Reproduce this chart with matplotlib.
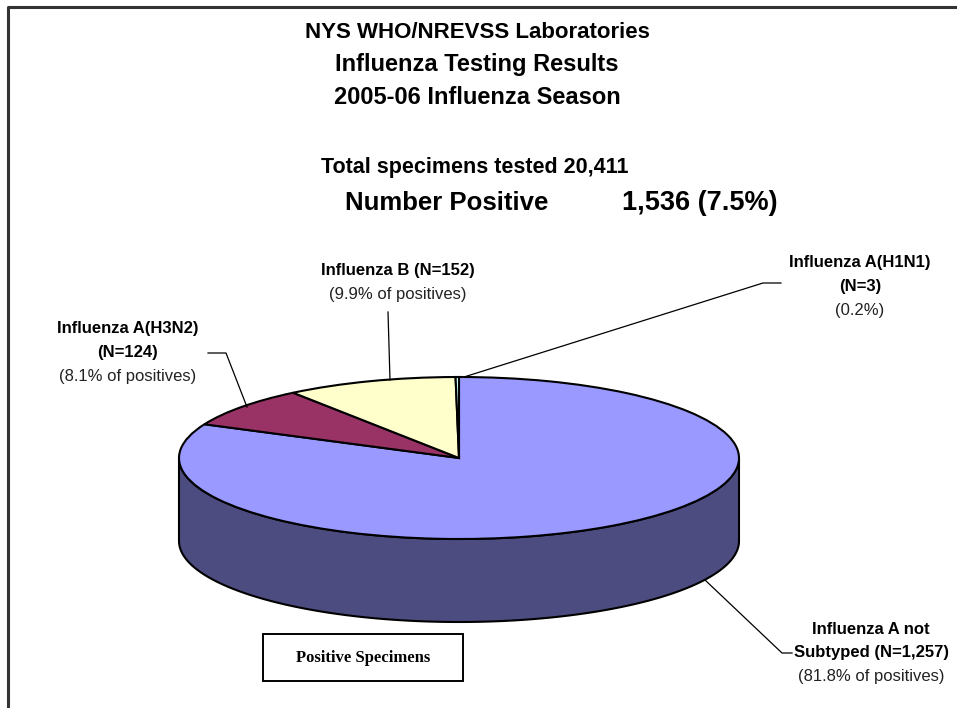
import numpy as np
import matplotlib
matplotlib.use("Agg")
import matplotlib.pyplot as plt
from matplotlib.patches import Wedge, Polygon, Rectangle
from matplotlib.transforms import Affine2D

# ---- data ----
categories = ["Influenza A not Subtyped", "Influenza A(H3N2)", "Influenza B", "Influenza A(H1N1)"]
counts = [1257, 124, 152, 3]
top_colors = ["#9999FF", "#993366", "#FFFFCC", "#CCFFFF"]
side_colors = ["#4C4C80", "#4D1A33", "#808066", "#668080"]
title_lines = ["NYS WHO/NREVSS Laboratories", "Influenza Testing Results", "2005-06 Influenza Season"]
total_tested = "20,411"
positive_text = "1,536 (7.5%)"
label_lines = [
    ["Influenza A not", "Subtyped (N=1,257)", "(81.8% of positives)"],
    ["Influenza A(H3N2)", "(N=124)", "(8.1% of positives)"],
    ["Influenza B (N=152)", "(9.9% of positives)"],
    ["Influenza A(H1N1)", "(N=3)", "(0.2%)"],
]

W, H = 957, 708
fig = plt.figure(figsize=(W / 100, H / 100), dpi=100)
ax = fig.add_axes([0, 0, 1, 1])
ax.set_xlim(0, W)
ax.set_ylim(H, 0)
ax.axis("off")

# outer frame (top and left visible)
ax.plot([8, 8, W + 5], [H + 5, 7, 7], color="#333333", lw=2.2, solid_capstyle="butt")

# titles
title_sizes = [16, 17, 17]
for i, t in enumerate(title_lines):
    ax.text(477, 32 + i * 33, t, ha="center", va="center", fontsize=title_sizes[i],
            fontweight="bold", family="Liberation Sans")
ax.text(475, 167, "Total specimens tested " + total_tested, ha="center", va="center",
        fontsize=15.5, fontweight="bold", family="Liberation Sans")
ax.text(345, 203, "Number Positive", ha="left", va="center",
        fontsize=18.5, fontweight="bold", family="Liberation Sans")
ax.text(622, 203, positive_text, ha="left", va="center",
        fontsize=19.5, fontweight="bold", family="Liberation Sans")

# ---- 3D pie geometry ----
cx, cy, a, b, depth = 459, 458, 280, 81, 83
vals = np.array(counts, dtype=float)
frac = vals / vals.sum()
# start at 12 o'clock, going clockwise
ends = 90 - 360 * np.cumsum(frac)
starts = np.concatenate([[90], ends[:-1]])

def ell(t, dy=0.0):
    t = np.radians(t)
    return np.column_stack([cx + a * np.cos(t), cy - b * np.sin(t) + dy])

# side walls (front half: angles 180..360)
for s, e, col in zip(starts, ends, side_colors):
    lo, hi = min(s, e), max(s, e)
    for shift in (-360, 0, 360):
        l2, h2 = max(lo + shift, 180), min(hi + shift, 360)
        if h2 > l2:
            t = np.linspace(l2, h2, 200)
            pts = np.vstack([ell(t), ell(t[::-1], depth)])
            ax.add_patch(Polygon(pts, closed=True, fc=col, ec="black", lw=1.5, zorder=2))

# top surface
tr = Affine2D().scale(a, -b).translate(cx, cy) + ax.transData
for s, e, col in zip(starts, ends, top_colors):
    ax.add_patch(Wedge((0, 0), 1, e, s, fc=col, ec="black", lw=1.5, transform=tr, zorder=3))

# ---- labels ----
lab_pos = [(871, [629, 653, 677]), (128, [328, 352, 377]), (398, [270, 295]), (860, [263, 287, 310])]
n_bold = [2, 2, 1, 2]
for lines, (x, ys), nb in zip(label_lines, lab_pos, n_bold):
    for j, (txt, y) in enumerate(zip(lines, ys)):
        ax.text(x, y, txt, ha="center", va="center", fontsize=12,
                fontweight="bold" if j < nb else "normal", family="Liberation Sans",
                color="black" if j < nb else "#222222")

# leader lines
lk = dict(color="black", lw=0.9, zorder=4)
ax.plot([208, 226, 247], [353, 353, 407], **lk)
ax.plot([388, 390], [312, 380], **lk)
ax.plot([464, 763, 781], [377, 283, 283], **lk)
ax.plot([705, 782, 792], [580, 653, 653], **lk)

# box
ax.add_patch(Rectangle((263, 634), 200, 47, fc="white", ec="black", lw=1.4, zorder=4))
ax.text(363, 658, "Positive Specimens", ha="center", va="center", fontsize=12,
        fontweight="bold", family="Liberation Serif", zorder=5)

fig.savefig("out.png", dpi=100)
